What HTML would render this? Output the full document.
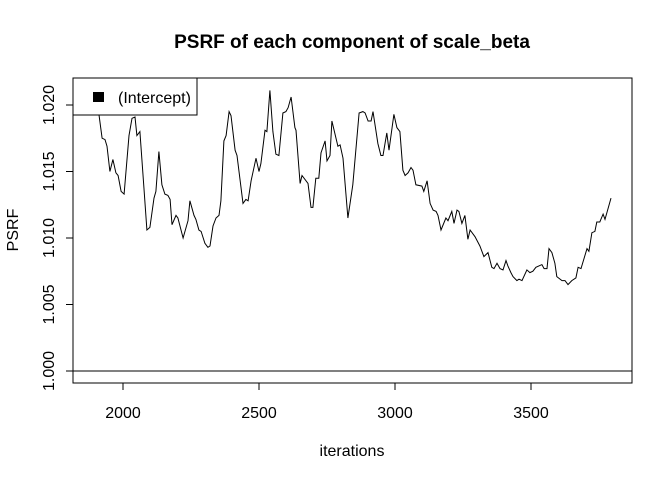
<!DOCTYPE html>
<html><head><meta charset="utf-8"><style>html,body{margin:0;padding:0;background:#fff}svg{display:block}text{font-family:"Liberation Sans",sans-serif}</style></head>
<body>
<svg id="chart" width="672" height="480" viewBox="0 0 672 480" xmlns="http://www.w3.org/2000/svg">
<text x="352" y="48" text-anchor="middle" font-size="19" font-weight="bold">PSRF of each component of scale_beta</text>
<rect x="73" y="78" width="559" height="305" fill="none" stroke="#000" stroke-width="1"/>
<g id="xaxis"></g>
<g id="yaxis"></g>
<text x="352" y="456" text-anchor="middle" font-size="16">iterations</text>
<text transform="translate(18,230) rotate(-90)" text-anchor="middle" font-size="16">PSRF</text>
<g id="series"></g>
<g>
<rect x="73" y="78" width="124" height="37" fill="#fff" stroke="#000"/>
<rect x="93" y="92" width="11" height="10" fill="#000"/>
<text x="118" y="103" font-size="16">(Intercept)</text>
</g>
</svg>
<script>
const xTicks=[2000,2500,3000,3500];
const yTicks=[1.000,1.005,1.010,1.015,1.020];
const yTickLabels=["1.000","1.005","1.010","1.015","1.020"];
const iters=[1905,1912,1923,1934,1941,1952,1963,1974,1982,1993,2004,2022,2033,2044,2051,2062,2077,2088,2099,2114,2121,2132,2143,2154,2165,2173,2180,2195,2202,2221,2239,2246,2261,2268,2279,2287,2301,2312,2320,2331,2342,2353,2360,2371,2379,2390,2397,2412,2419,2441,2452,2460,2471,2489,2500,2507,2522,2529,2540,2551,2562,2573,2588,2599,2607,2618,2632,2636,2651,2658,2680,2691,2698,2709,2720,2728,2743,2750,2761,2768,2790,2798,2809,2827,2845,2868,2882,2890,2901,2912,2919,2937,2948,2956,2970,2978,2996,3007,3018,3029,3037,3048,3059,3066,3077,3099,3106,3118,3129,3140,3151,3158,3169,3187,3195,3209,3217,3228,3235,3246,3257,3268,3276,3294,3312,3327,3342,3356,3364,3375,3386,3397,3408,3415,3426,3434,3448,3456,3467,3485,3496,3507,3518,3529,3540,3548,3559,3566,3577,3588,3595,3614,3625,3636,3650,3665,3673,3684,3706,3713,3724,3735,3742,3753,3765,3772,3794];
const psrf=[1.0205,1.0192,1.0175,1.0174,1.0169,1.0150,1.0159,1.0149,1.0147,1.0135,1.0133,1.0177,1.0190,1.0191,1.0177,1.0180,1.0138,1.0106,1.0108,1.0130,1.0135,1.0165,1.0140,1.0133,1.0132,1.0129,1.0110,1.0117,1.0115,1.0100,1.0113,1.0128,1.0117,1.0114,1.0106,1.0105,1.0096,1.0093,1.0094,1.0109,1.0115,1.0117,1.0128,1.0173,1.0177,1.0195,1.0192,1.0166,1.0162,1.0126,1.0129,1.0128,1.0143,1.0160,1.0150,1.0156,1.0181,1.0180,1.0211,1.0180,1.0163,1.0162,1.0194,1.0195,1.0198,1.0206,1.0183,1.0181,1.0141,1.0147,1.0141,1.0123,1.0123,1.0145,1.0145,1.0164,1.0173,1.0158,1.0162,1.0188,1.0169,1.0170,1.0160,1.0115,1.0140,1.0194,1.0195,1.0194,1.0188,1.0188,1.0195,1.0171,1.0162,1.0162,1.0179,1.0166,1.0193,1.0183,1.0180,1.0151,1.0147,1.0149,1.0153,1.0151,1.0140,1.0139,1.0135,1.0143,1.0126,1.0121,1.0120,1.0117,1.0106,1.0115,1.0113,1.0120,1.0111,1.0121,1.0120,1.0111,1.0117,1.0099,1.0106,1.0101,1.0094,1.0086,1.0089,1.0078,1.0077,1.0081,1.0077,1.0076,1.0083,1.0079,1.0074,1.0071,1.0068,1.0069,1.0068,1.0076,1.0074,1.0075,1.0078,1.0079,1.0080,1.0077,1.0077,1.0092,1.0089,1.0081,1.0071,1.0068,1.0068,1.0065,1.0068,1.0070,1.0078,1.0077,1.0092,1.0090,1.0104,1.0105,1.0112,1.0112,1.0118,1.0114,1.0130];
const NS="http://www.w3.org/2000/svg";
const xS=v=>123+(v-2000)*0.272;
const yS=v=>371-(v-1)*13300;
function mk(tag,attrs,parent){const e=document.createElementNS(NS,tag);for(const k in attrs)e.setAttribute(k,attrs[k]);parent.appendChild(e);return e;}
const xa=document.getElementById('xaxis'),ya=document.getElementById('yaxis'),sg=document.getElementById('series');
let l=mk('line',{x1:xS(xTicks[0]),x2:xS(xTicks[xTicks.length-1]),y1:383,y2:383,stroke:'#000'},xa);


xTicks.forEach(t=>{
 const tk=mk('line',{x1:xS(t),x2:xS(t),y1:383,y2:390,stroke:'#000'},xa);
 
 
 const tx=mk('text',{x:xS(t),y:418,'text-anchor':'middle','font-size':16},xa);
 tx.textContent=t;
 
 
});
l=mk('line',{x1:73,x2:73,y1:yS(yTicks[0]),y2:yS(yTicks[yTicks.length-1]),stroke:'#000'},ya);


yTicks.forEach((t,i)=>{
 const tk=mk('line',{x1:66,x2:73,y1:yS(t),y2:yS(t),stroke:'#000'},ya);
 
 
 const tx=mk('text',{transform:`translate(54,${yS(t)}) rotate(-90)`,'text-anchor':'middle','font-size':16},ya);
 tx.textContent=yTickLabels[i];
 
 
});
const ref=mk('line',{x1:73,x2:632,y1:yS(1),y2:yS(1),stroke:'#000','stroke-width':1},sg);


const pl=mk('polyline',{points:iters.map((t,i)=>xS(t).toFixed(1)+','+yS(psrf[i]).toFixed(1)).join(' '),fill:'none',stroke:'#000','stroke-width':1},sg);


</script>
</body></html>
